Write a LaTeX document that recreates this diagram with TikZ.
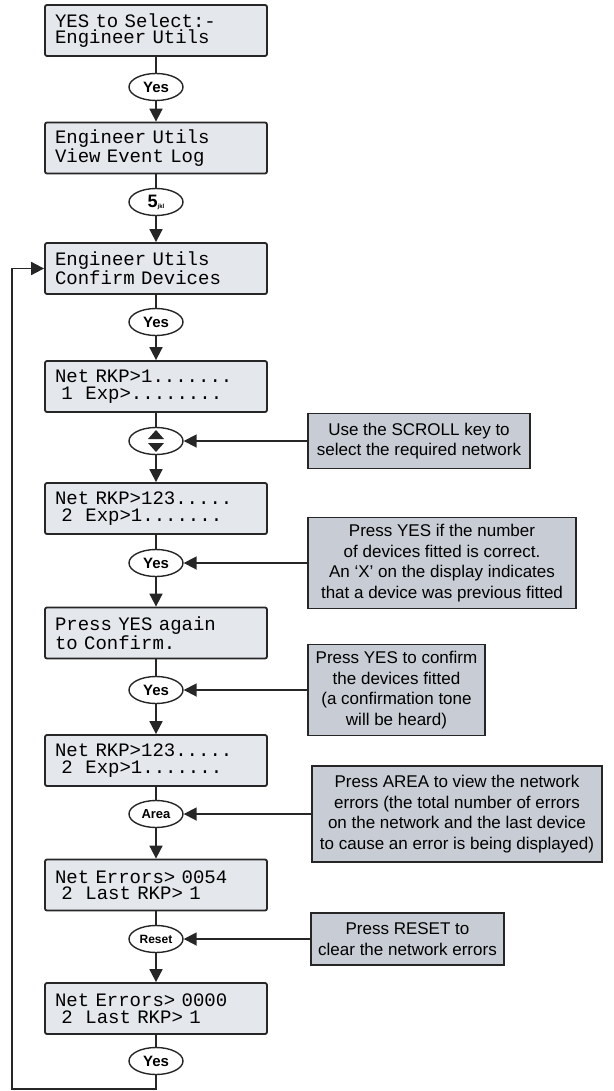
\documentclass[tikz,border=0pt]{standalone}
\usepackage{fontspec}
\setmainfont{Liberation Sans}
\newfontfamily\lcdfont{Liberation Mono}
\usetikzlibrary{arrows.meta,shapes.geometric}
\definecolor{lcdgrey}{RGB}{228,231,236}
\definecolor{notegrey}{RGB}{200,204,212}
% fixed-width spaces on the display screens
\newcommand{\lcdtext}{\lcdfont\fontsize{19}{16.5}\selectfont
  \fontdimen2\font=0.6em\fontdimen3\font=0pt\fontdimen4\font=0pt}

\begin{document}
\begin{tikzpicture}[x=1pt,y=-1pt,
  disp/.style={draw=black!85,line width=1.8pt,fill=lcdgrey,rounded corners=2pt,
    minimum width=222pt,minimum height=51pt,text width=202pt,inner xsep=10pt,
    inner ysep=0pt,align=left,font=\lcdtext},
  key/.style={ellipse,draw=black!85,line width=1.4pt,fill=white,
    minimum width=54pt,minimum height=27pt,inner sep=0pt,
    font=\bfseries\fontsize{15}{15}\selectfont},
  note/.style={draw=black!85,line width=1.8pt,fill=notegrey,align=center,
    inner sep=0pt,font=\fontsize{17}{20.5}\selectfont},
  link/.style={draw=black!85,line width=1.8pt},
  arr/.style={link,-{Triangle[width=13pt,length=13pt]}}]
  \useasboundingbox (0,0) rectangle (613,1091);

  % The display screens down the left column.
  \node[disp] (disp1) at (156,30.5) {YES to Select:-\\Engineer Utils};
  \node[disp] (disp2) at (156,148) {Engineer Utils\\View Event Log};
  \node[disp] (disp3) at (156,268.5) {Engineer Utils\\Confirm Devices};
  \node[disp] (disp4) at (156,386.5) {Net RKP>1.......\\~1~~Exp>........};
  \node[disp] (disp5) at (156,508.5) {Net RKP>123.....\\~2~~Exp>1.......};
  \node[disp] (disp6) at (156,633) {Press YES again\\to Confirm.};
  \node[disp] (disp7) at (156,760.5) {Net RKP>123.....\\~2~~Exp>1.......};
  \node[disp] (disp8) at (156,885) {Net Errors>~0054\\~2~~Last RKP>~1};
  \node[disp] (disp9) at (156,1008.5) {Net Errors>~0000\\~2~~Last RKP>~1};

  % The keys pressed between the screens.
  \node[key] (key1) at (156,87) {Yes};
  \node[key,font=\bfseries\fontsize{18}{18}\selectfont] (key2) at (156,202)
    {5\raisebox{-1pt}{\fontsize{6}{6}\selectfont jkl}};
  \node[key] (key3) at (156,322) {Yes};
  \node[key] (key4) at (156,441) {};
  \node[key] (key5) at (156,563) {Yes};
  \node[key] (key6) at (156,690) {Yes};
  \node[key,font=\bfseries\fontsize{13}{13}\selectfont] (key7) at (156,814) {Area};
  \node[key,font=\bfseries\fontsize{12}{12}\selectfont] (key8) at (156,939) {Reset};
  \node[key] (key9) at (156,1061) {Yes};
  % scroll symbol
  \fill[black!85] ([shift={(-8,-2)}]key4.center) -- ++(16,0) -- ++(-8,-9) -- cycle;
  \fill[black!85] ([shift={(-8,2)}]key4.center) -- ++(16,0) -- ++(-8,9) -- cycle;

  \foreach \i/\j in {1/2,2/3,3/4,4/5,5/6,6/7,7/8,8/9} {
    \draw[link] (disp\i) -- (key\i);
    \draw[arr] (key\i) -- (disp\j);
  }
  \draw[link] (disp9) -- (key9);

  % Back round to Confirm Devices.
  \coordinate (lb) at (12,1089);
  \draw[arr] (key9.south) |- (lb) |- (disp3.west);

  % The notes on the right.
  \node[note,minimum width=222pt,minimum height=55pt] (note1) at (419,441)
    {Use the SCROLL key to\\select the required network};
  \node[note,minimum width=268pt,minimum height=91pt] (note2) at (442,563)
    {Press YES if the number\\of devices fitted is correct.\\An `X' on the display indicates\\that a device was previous fitted};
  \node[note,minimum width=177pt,minimum height=91pt] (note3) at (396.5,690)
    {Press YES to confirm\\the devices fitted\\(a confirmation tone\\will be heard)};
  \node[note,minimum width=290pt,minimum height=96pt] (note4) at (457,814)
    {Press AREA to view the network\\errors (the total number of errors\\on the network and the last device\\to cause an error is being displayed)};
  \node[note,minimum width=193pt,minimum height=52pt] (note5) at (407.5,939)
    {Press RESET to\\clear the network errors};
  \draw[arr] (note1) -- (key4);
  \draw[arr] (note2) -- (key5);
  \draw[arr] (note3) -- (key6);
  \draw[arr] (note4) -- (key7);
  \draw[arr] (note5) -- (key8);
\end{tikzpicture}
\end{document}
